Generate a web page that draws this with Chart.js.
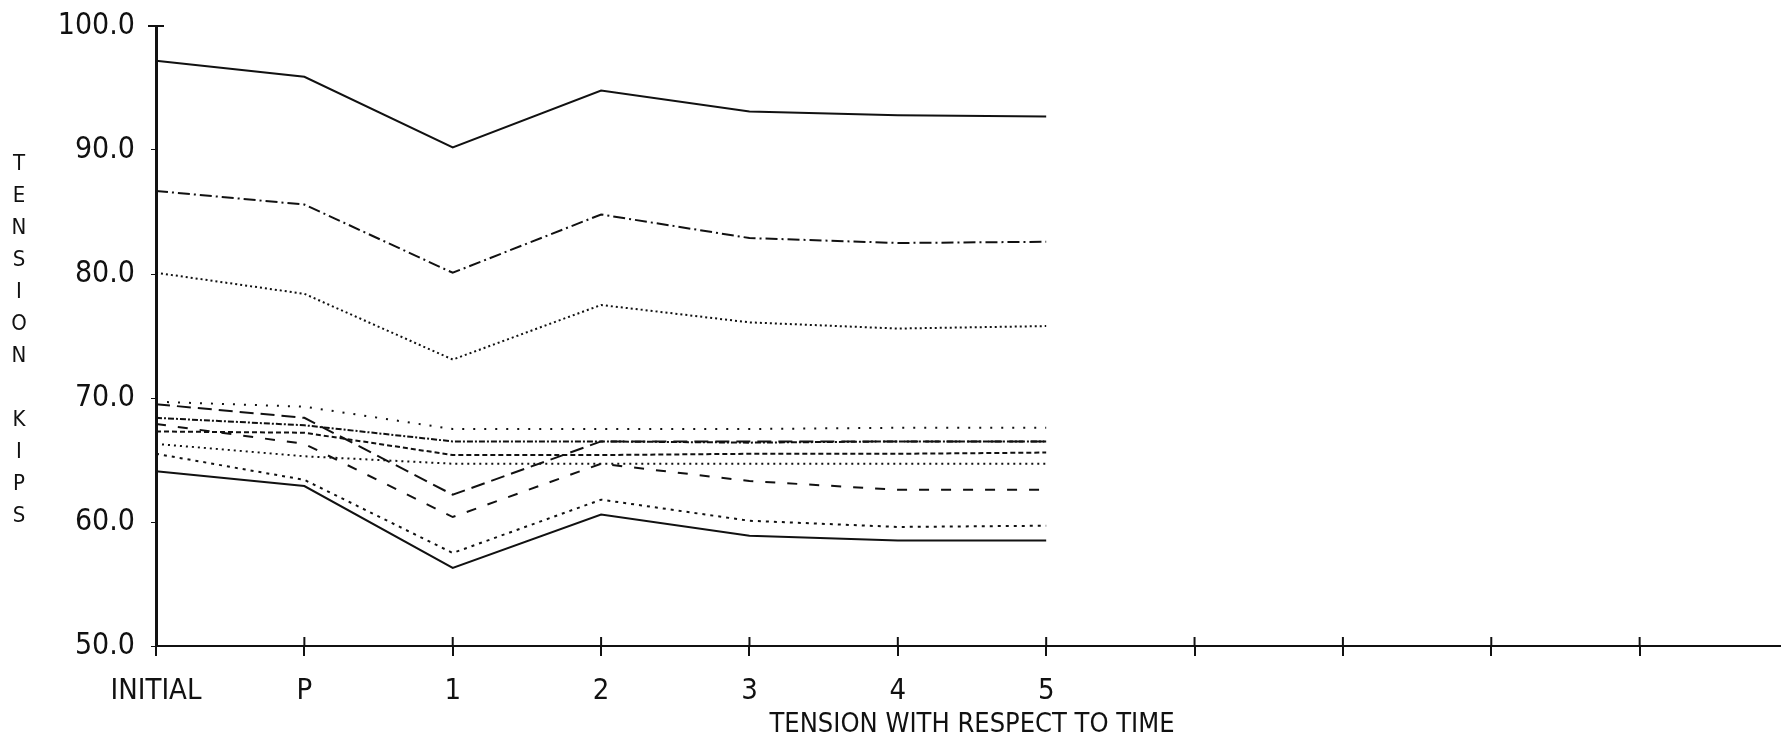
<!DOCTYPE html>
<html>
<head>
<meta charset="utf-8">
<script src="https://cdn.jsdelivr.net/npm/chart.js@4.4.1/dist/chart.umd.min.js"></script>
<style>
    body { margin: 0; background: #fff; overflow: hidden; }
    #wrap { position: relative; width: 1781px; height: 741px; overflow: hidden; }
    #tensionChart { position: absolute; left: 0; top: -8px; }
    #ytitle {
        position: absolute; left: 7px; top: 147px; width: 24px;
        font: 22px 'DejaVu Sans Condensed', 'Liberation Sans Narrow', 'DejaVu Sans', sans-serif;
        line-height: 32px; text-align: center; color: #111;
    }
</style>
</head>
<body>
<div id="wrap">
    <canvas id="tensionChart" width="1806" height="749"></canvas>
    <div id="ytitle">T<br>E<br>N<br>S<br>I<br>O<br>N<br><br>K<br>I<br>P<br>S</div>
</div>
<script>
// x categories (the last five slots are blank ticks)
const categories = ['INITIAL', 'P', '1', '2', '3', '4', '5', '', '', '', '', ''];
const yMin = 50;
const yMax = 100;
const yStep = 10;

// tension values in kips
const tension1 = [97.2, 95.9, 90.2, 94.8, 93.1, 92.8, 92.7];
const tension2 = [86.7, 85.6, 80.1, 84.8, 82.9, 82.5, 82.6];
const tension3 = [80.1, 78.4, 73.1, 77.5, 76.1, 75.6, 75.8];
const tension4 = [69.7, 69.3, 67.5, 67.5, 67.5, 67.6, 67.6];
const tension5 = [69.5, 68.4, 62.2, 66.5, 66.5, 66.5, 66.5];
const tension6 = [68.4, 67.8, 66.5, 66.5, 66.4, 66.5, 66.5];
const tension7 = [67.9, 66.3, 60.4, 64.7, 63.3, 62.6, 62.6];
const tension8 = [67.3, 67.2, 65.4, 65.4, 65.5, 65.5, 65.6];
const tension9 = [66.3, 65.3, 64.7, 64.7, 64.7, 64.7, 64.7];
const tension10 = [65.5, 63.4, 57.5, 61.8, 60.1, 59.6, 59.7];
const tension11 = [64.1, 62.9, 56.3, 60.6, 58.9, 58.5, 58.5];

const fontFamily = "'DejaVu Sans Condensed', 'Liberation Sans Narrow', 'DejaVu Sans', sans-serif";

function series(data, dash) {
    return {
        data: data,
        borderColor: '#111',
        borderWidth: 2,
        borderDash: dash,
        pointRadius: 0,
        tension: 0,
        fill: false
    };
}

// ticks that cross the x axis, and the small cap on top of the y axis
const axisMarks = {
    id: 'axisMarks',
    afterDraw(chart) {
        const ctx = chart.ctx;
        const x = chart.scales.x;
        const y = chart.scales.y;
        ctx.save();
        ctx.strokeStyle = '#111';
        ctx.lineWidth = 2;
        x.ticks.forEach((t, i) => {
            const px = x.getPixelForTick(i);
            ctx.beginPath();
            ctx.moveTo(px, y.bottom - 9);
            ctx.lineTo(px, y.bottom);
            ctx.stroke();
        });
        ctx.beginPath();
        ctx.moveTo(x.left - 8, y.top);
        ctx.lineTo(x.left + 8, y.top);
        ctx.stroke();
        ctx.restore();
    }
};

const ctx = document.getElementById('tensionChart').getContext('2d');
const tensionChart = new Chart(ctx, {
    type: 'line',
    data: {
        labels: categories,
        datasets: [
            series(tension1, []),
            series(tension2, [12, 4, 2, 4]),
            series(tension3, [2, 3]),
            series(tension4, [2, 9]),
            series(tension5, [14, 7]),
            series(tension6, [6, 2, 2, 2]),
            series(tension7, [10, 12]),
            series(tension8, [5, 3]),
            series(tension9, [2, 4]),
            series(tension10, [3, 5]),
            series(tension11, [])
        ]
    },
    options: {
        responsive: false,
        animation: false,
        devicePixelRatio: 1,
        layout: { padding: { top: 17, left: 0, right: 0, bottom: 0 } },
        plugins: {
            legend: { display: false },
            tooltip: { enabled: false }
        },
        scales: {
            x: {
                type: 'category',
                offset: false,
                afterFit: (scale) => { scale.height = 95; },
                border: { display: true, color: '#111', width: 2 },
                grid: { drawOnChartArea: false, drawTicks: true, tickLength: 10, color: '#111', lineWidth: 2 },
                ticks: {
                    autoSkip: false,
                    maxRotation: 0,
                    padding: 18,
                    color: '#111',
                    font: { family: fontFamily, size: 29 }
                },
                title: {
                    display: true,
                    text: 'TENSION WITH RESPECT TO TIME',
                    color: '#111',
                    padding: { top: -4, bottom: 0 },
                    font: { family: fontFamily, size: 27 }
                }
            },
            y: {
                min: yMin,
                max: yMax,
                afterFit: (scale) => { scale.width = 156; },
                border: { display: true, color: '#111', width: 3 },
                grid: { drawOnChartArea: false, drawTicks: true, tickLength: 5, color: '#111', lineWidth: 1 },
                ticks: {
                    stepSize: yStep,
                    padding: 16,
                    color: '#111',
                    font: { family: fontFamily, size: 30 },
                    callback: (v) => v.toFixed(1)
                }
            }
        }
    },
    plugins: [axisMarks]
});
</script>
</body>
</html>
